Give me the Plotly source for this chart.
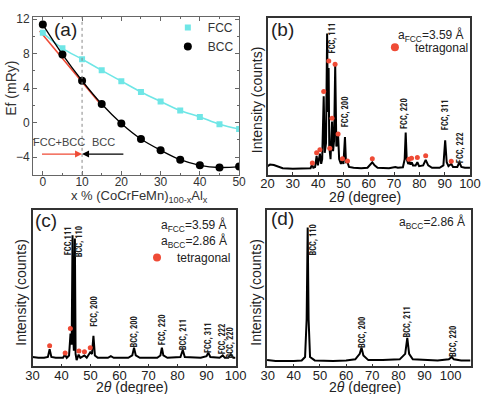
import plotly.graph_objects as go

W, H = 488, 394

# ---------------- panel (a): formation energy ----------------
al_pct = [0, 5, 10, 15, 20, 25, 30, 35, 40, 45, 50]
ef_fcc = [10.4, 8.6, 7.35, 6.05, 4.8, 3.55, 2.45, 1.4, 0.65, -0.2, -0.75]
ef_bcc = [11.35, 7.9, 4.85, 2.15, -0.1, -1.9, -3.2, -4.3, -4.95, -5.2, -5.1]
tangent_pct = [-0.8, 14.5]
tangent_ef = [10.6, 2.25]
phase_boundary = 10

# ---------------- panel (b): XRD, FCC + tetragonal ----------------
b_2theta = [20, 21, 22.5, 24, 26, 30, 35, 37.0, 37.6, 38.1, 38.8, 39.4, 39.9, 40.7, 41.2,
            41.6, 42.2, 42.6, 43.1, 43.55, 43.85, 44.15, 44.4, 44.6, 44.9, 45.5, 45.9, 46.3,
            46.75, 47.2, 47.9, 48.3, 49.0, 49.6, 50.0, 50.6, 51.0, 51.6, 52.2, 54, 57, 59.5,
            60.5, 61.4, 62.3, 63.5, 68, 70.5, 71.5, 73.5, 74.2, 74.6, 75.0, 75.6, 76.1, 76.5,
            77.0, 77.5, 78.5, 79.2, 79.9, 81.5, 82.5, 83.5, 85, 88, 89.5, 90.2, 90.8, 91.5,
            92.6, 93.3, 95, 95.8, 96.6, 98, 100]
b_counts = [5.5, 6.5, 6.2, 5.2, 4.2, 3.8, 4.0, 4.2, 6.5, 4.5, 5.0, 12, 6, 13.5, 7,
            10, 50, 14, 20, 90, 40, 68, 18, 16, 10, 34, 15, 22,
            70, 18, 25, 10, 7, 9, 7, 24, 8, 8, 5, 4.5, 4.2, 4.5,
            6, 8, 6, 4.5, 4.2, 5, 4.5, 4.8, 10, 27, 10, 7, 8, 6.5,
            8, 6, 6, 8, 5.5, 6, 9.5, 6, 4.5, 4.5, 6, 22, 8, 5.5,
            7, 5, 5, 8, 5, 4.5, 4.5]
b_tet_2theta = [37.7, 39.4, 40.7, 42.2, 44.2, 44.6, 45.5, 46.7, 47.9, 49.6, 51.6,
                61.4, 75.9, 76.9, 79.2, 82.5, 92.6]
b_tet_counts = [7.5, 14, 16, 53, 72.5, 17, 36, 70.5, 26, 10.3, 8.8,
                10.3, 9.9, 10.5, 11.1, 12.2, 8.6]
b_labels = ["FCC, 111", "FCC, 200", "FCC, 220", "FCC, 311", "FCC, 222"]

# ---------------- panel (c): XRD, FCC + BCC + tetragonal ----------------
c_2theta = [30, 32, 34, 35.3, 35.9, 36.5, 38, 40.5, 41.2, 41.8, 42.6, 43.1, 43.5, 43.8,
            44.05, 44.25, 44.6, 44.85, 45.2, 45.9, 46.5, 47.9, 48.7, 49.9, 50.5, 51.0, 51.5,
            52.5, 56, 57, 58, 63, 64.4, 65.0, 65.6, 67, 73, 74.1, 74.6, 75.1, 76.5, 81,
            81.8, 82.5, 88, 90, 90.6, 91.3, 94.5, 95.6, 96.3, 97.5, 98.4, 99.2, 100]
c_counts = [6, 5.5, 5.5, 6, 11, 6, 5.5, 5.5, 7.5, 5.5, 7, 21, 14, 84,
            20, 10, 82, 8, 4, 7.5, 5.5, 7, 5.5, 9, 8, 19.5, 7,
            5.5, 5.5, 6.5, 5.5, 5.5, 7, 12, 7, 5.5, 5.5, 7, 12, 7, 5.5, 6,
            10.5, 6, 5.5, 6.5, 8.8, 6, 5.5, 7, 5.5, 5.5, 7.8, 5.5, 5.5]
c_tet_2theta = [35.9, 41.25, 43.05, 46.0, 47.9, 49.9]
c_tet_counts = [13.2, 8.6, 24.2, 9.8, 9.3, 12.0]
c_labels = ["FCC,111", "BCC, 110", "FCC, 200", "BCC, 200", "FCC, 220", "BCC, 211",
            "FCC, 311", "FCC, 222", "BCC, 220"]

# ---------------- panel (d): XRD, BCC ----------------
d_2theta = [29.75, 33, 40, 43, 44.3, 44.9, 45.3, 45.65, 46.2, 48, 55, 60, 63.5, 65.2,
            65.9, 66.6, 68.5, 74, 80.5, 82.6, 83.4, 84.1, 85.5, 95, 99.3, 100.4, 101.2,
            104, 107.6]
d_counts = [4, 3.5, 3.5, 3.8, 6, 30, 89, 30, 6, 3.8, 3.5, 3.8, 4.5, 8,
            12, 7, 4, 4, 4.5, 8, 18.3, 8, 4.5, 3.8, 4.5, 6, 4.5,
            3.8, 3.8]
d_labels = ["BCC, 110", "BCC, 200", "BCC, 211", "BCC, 220"]

# ---------------- label placement (annotation positions) ----------------
b_label_pos = [(45.4, 87.4), (50.7, 40.0), (74.2, 39.2), (90.1, 38.6), (95.8, 17.2)]
c_label_pos = [(42.2, 80.8), (46.1, 79.7), (51.3, 35.2), (65.1, 21.9), (74.5, 23.6),
               (81.8, 20.4), (90.6, 18.3), (95.2, 17.7), (98.0, 15.1)]
d_label_pos = [(47.4, 80.8), (66.0, 21.9), (83.4, 28.3), (100.6, 15.8)]

FONT = "Arial, Liberation Sans, Helvetica, sans-serif"
NARROW = "Liberation Sans Narrow, Arial Narrow, Roboto Condensed, Arial, sans-serif"
CYAN = "#6fe6e6"
RED = "#ef4b36"


def px_x(p):
    return p / W


def px_y(p):
    return 1 - p / H


dom = {
    "a": ([px_x(27), px_x(241)], [px_y(172), px_y(12)]),
    "b": ([px_x(270.5), px_x(480.7)], [px_y(172), px_y(13)]),
    "c": ([px_x(26.5), px_x(237.3)], [px_y(366), px_y(208)]),
    "d": ([px_x(270), px_x(481.3)], [px_y(366), px_y(208)]),
}

fig = go.Figure()

# --- panel (a) traces ---
fig.add_trace(go.Scatter(x=tangent_pct, y=tangent_ef, mode="lines",
                         line=dict(color=RED, width=1.6), showlegend=False,
                         xaxis="x", yaxis="y"))
fig.add_trace(go.Scatter(x=al_pct, y=ef_fcc, mode="lines+markers", name="FCC",
                         line=dict(color=CYAN, width=1.6, shape="spline"),
                         marker=dict(symbol="square", size=6, color=CYAN),
                         showlegend=False, xaxis="x", yaxis="y"))
fig.add_trace(go.Scatter(x=al_pct, y=ef_bcc, mode="lines+markers", name="BCC",
                         line=dict(color="black", width=1.3, shape="spline"),
                         marker=dict(symbol="circle", size=8, color="black"),
                         showlegend=False, xaxis="x", yaxis="y"))
# legend keys (marker only, as in the reference legend)
fig.add_trace(go.Scatter(x=[None], y=[None], mode="markers", name="FCC",
                         marker=dict(symbol="square", size=6, color=CYAN),
                         xaxis="x", yaxis="y", legend="legend"))
fig.add_trace(go.Scatter(x=[None], y=[None], mode="markers", name="BCC",
                         marker=dict(symbol="circle", size=8, color="black"),
                         xaxis="x", yaxis="y", legend="legend"))

# --- XRD traces ---
for ax, xs, ys in (("2", b_2theta, b_counts), ("3", c_2theta, c_counts), ("4", d_2theta, d_counts)):
    fig.add_trace(go.Scatter(x=xs, y=ys, mode="lines", line=dict(color="black", width=2),
                             showlegend=False, xaxis="x" + ax, yaxis="y" + ax))

for ax, xs, ys, lg in (("2", b_tet_2theta, b_tet_counts, "legend2"),
                       ("3", c_tet_2theta, c_tet_counts, "legend3")):
    fig.add_trace(go.Scatter(x=xs, y=ys, mode="markers", name="tetragonal",
                             marker=dict(color=RED, size=5), showlegend=False,
                             xaxis="x" + ax, yaxis="y" + ax))
    fig.add_trace(go.Scatter(x=[None], y=[None], mode="markers", name="tetragonal",
                             marker=dict(color=RED, size=8), legend=lg,
                             xaxis="x" + ax, yaxis="y" + ax))

layout = dict(
    width=W, height=H, margin=dict(l=0, r=0, t=0, b=0),
    paper_bgcolor="white", plot_bgcolor="white",
    font=dict(family=FONT, size=12, color="#222"),
    showlegend=True,
)


def xrd_x(dom_x, rng, anchor, standoff):
    return dict(domain=dom_x, range=rng, anchor=anchor, showline=True, mirror=True,
                linecolor="#333", linewidth=1.5, ticks="inside", ticklen=3, tickcolor="#333",
                dtick=10, tick0=0, showgrid=False, zeroline=False, ticklabelstandoff=standoff,
                tickfont=dict(size=13, color="#222"))


def xrd_y(dom_y, anchor):
    return dict(domain=dom_y, range=[0, 100], anchor=anchor, showline=True, mirror=True,
                linecolor="#333", linewidth=1.5, ticks="", showticklabels=False,
                showgrid=False, zeroline=False)


layout["xaxis"] = dict(domain=dom["a"][0], range=[-2.5, 50.0], anchor="y", showline=True,
                       mirror="ticks", linecolor="#666", linewidth=1, ticks="inside", ticklen=4,
                       tickcolor="#666", dtick=10, tick0=0, showgrid=False, zeroline=False,
                       minor=dict(dtick=5, ticks="inside", ticklen=2, tickcolor="#666"),
                       ticklabelstandoff=-4, tickfont=dict(size=12, color="#333"))
layout["yaxis"] = dict(domain=dom["a"][1], range=[-6.05, 12.25], anchor="x", showline=True,
                       mirror="ticks", linecolor="#666", linewidth=1, ticks="inside", ticklen=4,
                       tickcolor="#666", dtick=4, tick0=0, showgrid=False, zeroline=False,
                       minor=dict(dtick=2, ticks="inside", ticklen=2, tickcolor="#666"),
                       tickfont=dict(size=12, color="#333"))
layout["xaxis2"] = xrd_x(dom["b"][0], [20, 100], "y2", -4)
layout["yaxis2"] = xrd_y(dom["b"][1], "x2")
layout["xaxis3"] = xrd_x(dom["c"][0], [30, 100], "y3", -4)
layout["yaxis3"] = xrd_y(dom["c"][1], "x3")
layout["xaxis4"] = xrd_x(dom["d"][0], [29.75, 107.6], "y4", -4)
layout["yaxis4"] = xrd_y(dom["d"][1], "x4")

layout["legend"] = dict(x=px_x(167), y=px_y(8), xanchor="left", yanchor="top",
                        bgcolor="rgba(0,0,0,0)", font=dict(size=12, color="#333"),
                        tracegroupgap=0)
layout["legend2"] = dict(x=px_x(382), y=px_y(28), xanchor="left", yanchor="top",
                         bgcolor="rgba(0,0,0,0)", font=dict(size=12, color="#222"))
layout["legend3"] = dict(x=px_x(135), y=px_y(241), xanchor="left", yanchor="top",
                         bgcolor="rgba(0,0,0,0)", font=dict(size=12, color="#222"))

fig.update_layout(**layout)

# phase boundary dotted line
fig.add_shape(type="line", xref="x", yref="y domain", x0=phase_boundary, x1=phase_boundary,
              y0=0, y1=1, line=dict(color="#888", width=1, dash="dot"))

ann = []
# axis titles (placed in page pixels)
two_theta = "2<i>θ</i> (degree)"
for txt, cx, cy, ang, col, fs in (
        ("Ef (mRy)", 4, 84, -90, "#333", 14),
        ("x % (CoCrFeMn)<sub>100-x</sub>Al<sub>x</sub>", 138, 194, 0, "#333", 13),
        ("Intensity (counts)", 259, 96, -90, "#222", 14),
        (two_theta, 371.5, 194.5, 0, "#222", 14),
        ("Intensity (counts)", 15, 291, -90, "#222", 14),
        (two_theta, 130, 386.5, 0, "#222", 14),
        ("Intensity (counts)", 259, 291, -90, "#222", 14),
        (two_theta, 371.5, 386.5, 0, "#222", 14)):
    ann.append(dict(xref="paper", yref="paper", x=px_x(cx), y=px_y(cy), text=txt,
                    textangle=ang, showarrow=False, xanchor="center", yanchor="middle",
                    font=dict(size=fs, color=col)))

# panel (a) annotations
ann.append(dict(xref="x", yref="y", x=2.4, y=10.75, text="(a)", showarrow=False,
                xanchor="left", font=dict(size=19, color="#222")))
ann.append(dict(xref="x", yref="y", x=4.1, y=-2.3, text="FCC+BCC", showarrow=False,
                font=dict(size=11, color="#444")))
ann.append(dict(xref="x", yref="y", x=15.5, y=-2.3, text="BCC", showarrow=False,
                font=dict(size=11, color="#444")))
ann.append(dict(xref="x", yref="y", axref="x", ayref="y", x=phase_boundary, y=-3.65,
                ax=-0.6, ay=-3.65, text="", showarrow=True, arrowhead=2, arrowsize=1,
                arrowwidth=1.4, arrowcolor=RED))
ann.append(dict(xref="x", yref="y", axref="x", ayref="y", x=phase_boundary, y=-3.65,
                ax=20.9, ay=-3.65, text="", showarrow=True, arrowhead=2, arrowsize=1,
                arrowwidth=1.4, arrowcolor="black"))

# panel letters and lattice constants
ann.append(dict(xref="x2", yref="y2", x=20.6, y=92.5, text="(b)", showarrow=False,
                xanchor="left", font=dict(size=19, color="#222")))
ann.append(dict(xref="x3", yref="y3", x=30.2, y=93.5, text="(c)", showarrow=False,
                xanchor="left", font=dict(size=19, color="#222")))
ann.append(dict(xref="x4", yref="y4", x=30.6, y=94.5, text="(d)", showarrow=False,
                xanchor="left", font=dict(size=19, color="#222")))
ann.append(dict(xref="x2", yref="y2", x=98.6, y=88.5, text="a<sub>FCC</sub>=3.59 Å",
                showarrow=False, xanchor="right", font=dict(size=12, color="#222")))
ann.append(dict(xref="x3", yref="y3", x=97.8, y=90.3, text="a<sub>FCC</sub>=3.59 Å",
                showarrow=False, xanchor="right", font=dict(size=12, color="#222")))
ann.append(dict(xref="x3", yref="y3", x=97.8, y=80.1, text="a<sub>BCC</sub>=2.86 Å",
                showarrow=False, xanchor="right", font=dict(size=12, color="#222")))
ann.append(dict(xref="x4", yref="y4", x=106.3, y=92.4, text="a<sub>BCC</sub>=2.86 Å",
                showarrow=False, xanchor="right", font=dict(size=12, color="#222")))

# peak labels
for ax, labels, pos in (("2", b_labels, b_label_pos), ("3", c_labels, c_label_pos),
                        ("4", d_labels, d_label_pos)):
    for t, (px, py) in zip(labels, pos):
        ann.append(dict(xref="x" + ax, yref="y" + ax, x=px, y=py, text="<b>%s</b>" % t,
                        textangle=-90, showarrow=False, xanchor="center", yanchor="middle",
                        font=dict(size=8.5, color="#222", family=NARROW)))

fig.update_layout(annotations=ann)
fig.write_html("out.html")
